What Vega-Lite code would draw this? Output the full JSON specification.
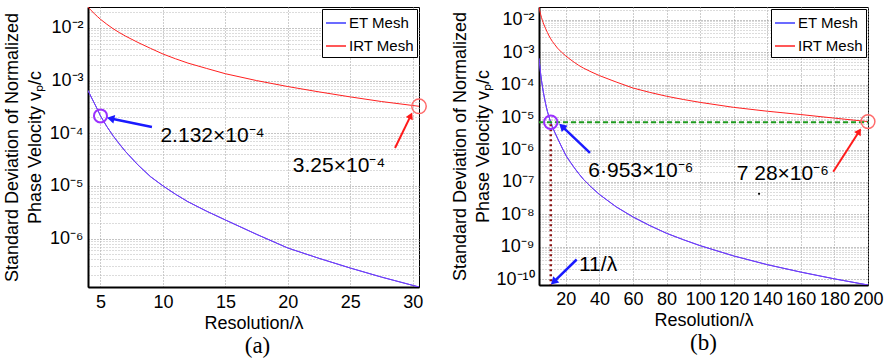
{
  "$schema": "https://vega.github.io/schema/vega-lite/v6.json",
  "background": "white",
  "padding": {"left": 2, "top": 0, "right": 2, "bottom": 0},
  "config": {
    "font": "Liberation Sans",
    "view": {"stroke": "black", "strokeWidth": 1},
    "axis": {
      "labelFont": "Liberation Sans",
      "titleFont": "Liberation Sans",
      "labelColor": "black",
      "titleColor": "black",
      "titleFontWeight": "normal",
      "labelFontSize": 18,
      "titleFontSize": 18,
      "ticks": false,
      "domainColor": "black",
      "domainWidth": 2,
      "grid": true,
      "gridOpacity": 1,
      "gridWidth": 1,
      "gridDash": [1, 2],
      "labelFlush": false,
      "labelOverlap": false
    },
    "legend": {
      "title": null,
      "orient": "top-right",
      "offset": 2,
      "strokeColor": "black",
      "fillColor": "white",
      "padding": 3,
      "symbolType": "stroke",
      "symbolSize": 400,
      "symbolStrokeWidth": 1.5,
      "labelFont": "Liberation Sans",
      "labelFontSize": 15,
      "labelColor": "black",
      "labelOffset": 2,
      "rowPadding": 4,
      "cornerRadius": 0,
      "labelLimit": 90
    }
  },
  "datasets": {
    "curve": [
      {"x": 4, "mesh": "ET Mesh", "y": 6.5e-4}, {"x": 4, "mesh": "IRT Mesh", "y": 0.025},
      {"x": 4.25, "mesh": "ET Mesh", "y": 4.9e-4}, {"x": 4.25, "mesh": "IRT Mesh", "y": 0.0215},
      {"x": 4.5, "mesh": "ET Mesh", "y": 3.75e-4}, {"x": 4.5, "mesh": "IRT Mesh", "y": 0.0188},
      {"x": 4.75, "mesh": "ET Mesh", "y": 2.85e-4}, {"x": 4.75, "mesh": "IRT Mesh", "y": 0.0165},
      {"x": 5, "mesh": "ET Mesh", "y": 2.132e-4}, {"x": 5, "mesh": "IRT Mesh", "y": 0.0146},
      {"x": 5.5, "mesh": "ET Mesh", "y": 1.35e-4}, {"x": 5.5, "mesh": "IRT Mesh", "y": 0.0118},
      {"x": 6, "mesh": "ET Mesh", "y": 9.0e-5}, {"x": 6, "mesh": "IRT Mesh", "y": 0.0097},
      {"x": 6.5, "mesh": "ET Mesh", "y": 6.3e-5}, {"x": 6.5, "mesh": "IRT Mesh", "y": 0.0082},
      {"x": 7, "mesh": "ET Mesh", "y": 4.5e-5}, {"x": 7, "mesh": "IRT Mesh", "y": 0.0070},
      {"x": 8, "mesh": "ET Mesh", "y": 2.5e-5}, {"x": 8, "mesh": "IRT Mesh", "y": 0.0053},
      {"x": 9, "mesh": "ET Mesh", "y": 1.5e-5}, {"x": 9, "mesh": "IRT Mesh", "y": 0.0041},
      {"x": 10, "mesh": "ET Mesh", "y": 1.0e-5}, {"x": 10, "mesh": "IRT Mesh", "y": 0.0032},
      {"x": 11, "mesh": "ET Mesh", "y": 6.953e-6}, {"x": 11, "mesh": "IRT Mesh", "y": 0.0026},
      {"x": 12, "mesh": "ET Mesh", "y": 5.0e-6}, {"x": 12, "mesh": "IRT Mesh", "y": 0.00215},
      {"x": 13.5, "mesh": "ET Mesh", "y": 3.3e-6}, {"x": 13.5, "mesh": "IRT Mesh", "y": 0.0017},
      {"x": 15, "mesh": "ET Mesh", "y": 2.25e-6}, {"x": 15, "mesh": "IRT Mesh", "y": 0.00135},
      {"x": 17.5, "mesh": "ET Mesh", "y": 1.2e-6}, {"x": 17.5, "mesh": "IRT Mesh", "y": 0.001},
      {"x": 20, "mesh": "ET Mesh", "y": 6.6e-7}, {"x": 20, "mesh": "IRT Mesh", "y": 0.00077},
      {"x": 22.5, "mesh": "ET Mesh", "y": 4.2e-7}, {"x": 22.5, "mesh": "IRT Mesh", "y": 0.00061},
      {"x": 25, "mesh": "ET Mesh", "y": 2.75e-7}, {"x": 25, "mesh": "IRT Mesh", "y": 0.00049},
      {"x": 27.5, "mesh": "ET Mesh", "y": 1.85e-7}, {"x": 27.5, "mesh": "IRT Mesh", "y": 0.0004},
      {"x": 30.5, "mesh": "ET Mesh", "y": 1.2e-7}, {"x": 30.5, "mesh": "IRT Mesh", "y": 0.000325},
      {"x": 35, "mesh": "ET Mesh", "y": 7.0e-8}, {"x": 35, "mesh": "IRT Mesh", "y": 0.00025},
      {"x": 40, "mesh": "ET Mesh", "y": 4.1e-8}, {"x": 40, "mesh": "IRT Mesh", "y": 0.000191},
      {"x": 50, "mesh": "ET Mesh", "y": 1.7e-8}, {"x": 50, "mesh": "IRT Mesh", "y": 0.000121},
      {"x": 60, "mesh": "ET Mesh", "y": 8.3e-9}, {"x": 60, "mesh": "IRT Mesh", "y": 7.9e-5},
      {"x": 70, "mesh": "ET Mesh", "y": 4.5e-9}, {"x": 70, "mesh": "IRT Mesh", "y": 5.8e-5},
      {"x": 80, "mesh": "ET Mesh", "y": 2.6e-9}, {"x": 80, "mesh": "IRT Mesh", "y": 4.4e-5},
      {"x": 90, "mesh": "ET Mesh", "y": 1.65e-9}, {"x": 90, "mesh": "IRT Mesh", "y": 3.5e-5},
      {"x": 100, "mesh": "ET Mesh", "y": 1.08e-9}, {"x": 100, "mesh": "IRT Mesh", "y": 2.85e-5},
      {"x": 120, "mesh": "ET Mesh", "y": 5.2e-10}, {"x": 120, "mesh": "IRT Mesh", "y": 2.0e-5},
      {"x": 140, "mesh": "ET Mesh", "y": 2.8e-10}, {"x": 140, "mesh": "IRT Mesh", "y": 1.52e-5},
      {"x": 160, "mesh": "ET Mesh", "y": 1.65e-10}, {"x": 160, "mesh": "IRT Mesh", "y": 1.2e-5},
      {"x": 180, "mesh": "ET Mesh", "y": 1.02e-10}, {"x": 180, "mesh": "IRT Mesh", "y": 9.3e-6},
      {"x": 200, "mesh": "ET Mesh", "y": 6.6e-11}, {"x": 200, "mesh": "IRT Mesh", "y": 7.28e-6}
    ]
  },
  "spacing": 120,
  "bounds": "flush",
  "resolve": {"scale": {"color": "independent"}, "legend": {"color": "independent"}},
  "hconcat": [
    {
      "width": 331,
      "height": 280,
      "title": {"text": "(a)", "orient": "bottom", "font": "Liberation Serif", "fontSize": 23, "fontWeight": "normal", "color": "black", "offset": 3, "dx": 4},
      "encoding": {
        "x": {
          "field": "x", "type": "quantitative",
          "scale": {"domain": [4, 30.5], "nice": false, "zero": false},
          "axis": {"title": "Resolution/λ", "values": [5, 10, 15, 20, 25, 30], "labelPadding": 6, "titlePadding": 3, "grid": true, "gridColor": "#9a9a9a"}
        },
        "y": {
          "field": "y", "type": "quantitative",
          "scale": {"type": "log", "domain": [1.2e-7, 0.025], "nice": false},
          "axis": {
            "title": ["Standard Deviation of Normalized", "Phase Velocity vₚ/c"],
            "titleLineHeight": 23,
            "titlePadding": 5,
            "labelPadding": 5,
            "grid": true,
            "values": [2e-7, 3e-7, 4e-7, 5e-7, 6e-7, 7e-7, 8e-7, 9e-7, 1e-6, 2e-6, 3e-6, 4e-6, 5e-6, 6e-6, 7e-6, 8e-6, 9e-6, 1e-5, 2e-5, 3e-5, 4e-5, 5e-5, 6e-5, 7e-5, 8e-5, 9e-5, 1e-4, 2e-4, 3e-4, 4e-4, 5e-4, 6e-4, 7e-4, 8e-4, 9e-4, 1e-3, 2e-3, 3e-3, 4e-3, 5e-3, 6e-3, 7e-3, 8e-3, 9e-3, 1e-2, 2e-2],
            "labelExpr": "abs(log(datum.value)/LN10 - round(log(datum.value)/LN10)) < 0.001 ? '10⁻' + (round(-log(datum.value)/LN10) >= 10 ? '¹⁰' : ['⁰','¹','²','³','⁴','⁵','⁶','⁷','⁸','⁹'][round(-log(datum.value)/LN10)]) : ''",
            "gridColor": {"condition": {"test": "abs(log(datum.value)/LN10 - round(log(datum.value)/LN10)) < 0.001", "value": "#8a8a8a"}, "value": "#b8b8b8"}
          }
        }
      },
      "layer": [
        {
          "data": {"name": "curve"},
          "transform": [{"filter": "datum.x <= 30.5"}],
          "mark": {"type": "line", "strokeWidth": 1, "clip": true},
          "encoding": {
            "color": {"field": "mesh", "type": "nominal", "scale": {"domain": ["ET Mesh", "IRT Mesh"], "range": ["#3a3aff", "#ff2020"]}}
          }
        },
        {
          "data": {"name": "curve"},
          "transform": [{"filter": "datum.x <= 30.5 && datum.mesh == 'ET Mesh'"}],
          "mark": {"type": "line", "strokeWidth": 1, "clip": true, "color": "#7a3cf4"}
        },
        {
          "data": {"values": [{"x": 5, "y": 2.132e-4}]},
          "mark": {"type": "point", "filled": false, "stroke": "#9b30ff", "strokeWidth": 2, "size": 170, "opacity": 1}
        },
        {
          "data": {"values": [{"x": 30.5, "y": 3.25e-4}]},
          "mark": {"type": "point", "filled": false, "stroke": "#ff6b6b", "strokeWidth": 1.5, "size": 210, "opacity": 1}
        },
        {
          "data": {"values": [{"x": 9.12, "y": 1.31e-4, "x2": 5.91, "y2": 1.88e-4}]},
          "mark": {"type": "rule", "color": "#1a1aff", "strokeWidth": 2.5},
          "encoding": {"x2": {"field": "x2"}, "y2": {"field": "y2"}}
        },
        {
          "data": {"values": [{"x": 5.91, "y": 1.88e-4}]},
          "mark": {"type": "point", "shape": "triangle", "filled": true, "color": "#1a1aff", "size": 75, "angle": 282, "opacity": 1}
        },
        {
          "data": {"values": [{"x": 28.58, "y": 5.24e-5, "x2": 29.8, "y2": 2.07e-4}]},
          "mark": {"type": "rule", "color": "#ff1a1a", "strokeWidth": 2},
          "encoding": {"x2": {"field": "x2"}, "y2": {"field": "y2"}}
        },
        {
          "data": {"values": [{"x": 29.8, "y": 2.07e-4}]},
          "mark": {"type": "point", "shape": "triangle", "filled": true, "color": "#ff1a1a", "size": 60, "angle": 26, "opacity": 1}
        },
        {
          "data": {"values": [{"x": 9.8, "y": 8.85e-5, "label": "2.132×10⁻⁴"}, {"x": 20.4, "y": 2.39e-5, "label": "3.25×10⁻⁴"}]},
          "mark": {"type": "text", "align": "left", "baseline": "middle", "fontSize": 21, "color": "black", "font": "Liberation Sans"},
          "encoding": {"text": {"field": "label"}}
        }
      ]
    },
    {
      "width": 329,
      "height": 278,
      "title": {"text": "(b)", "orient": "bottom", "font": "Liberation Serif", "fontSize": 23, "fontWeight": "normal", "color": "black", "offset": 3},
      "encoding": {
        "x": {
          "field": "x", "type": "quantitative",
          "scale": {"domain": [4, 200], "nice": false, "zero": false},
          "axis": {"title": "Resolution/λ", "values": [20, 40, 60, 80, 100, 120, 140, 160, 180, 200], "labelPadding": 5, "titlePadding": 3, "grid": true, "gridColor": "#9a9a9a"}
        },
        "y": {
          "field": "y", "type": "quantitative",
          "scale": {"type": "log", "domain": [6.6e-11, 0.025], "nice": false},
          "axis": {
            "title": ["Standard Deviation of Normalized", "Phase Velocity vₚ/c"],
            "titleLineHeight": 23,
            "titlePadding": 3,
            "labelPadding": 5,
            "grid": true,
            "values": [1e-10, 2e-10, 3e-10, 4e-10, 5e-10, 6e-10, 7e-10, 8e-10, 9e-10, 1e-9, 2e-9, 3e-9, 4e-9, 5e-9, 6e-9, 7e-9, 8e-9, 9e-9, 1e-8, 2e-8, 3e-8, 4e-8, 5e-8, 6e-8, 7e-8, 8e-8, 9e-8, 1e-7, 2e-7, 3e-7, 4e-7, 5e-7, 6e-7, 7e-7, 8e-7, 9e-7, 1e-6, 2e-6, 3e-6, 4e-6, 5e-6, 6e-6, 7e-6, 8e-6, 9e-6, 1e-5, 2e-5, 3e-5, 4e-5, 5e-5, 6e-5, 7e-5, 8e-5, 9e-5, 1e-4, 2e-4, 3e-4, 4e-4, 5e-4, 6e-4, 7e-4, 8e-4, 9e-4, 1e-3, 2e-3, 3e-3, 4e-3, 5e-3, 6e-3, 7e-3, 8e-3, 9e-3, 1e-2, 2e-2],
            "labelExpr": "abs(log(datum.value)/LN10 - round(log(datum.value)/LN10)) < 0.001 ? '10⁻' + (round(-log(datum.value)/LN10) >= 10 ? '¹⁰' : ['⁰','¹','²','³','⁴','⁵','⁶','⁷','⁸','⁹'][round(-log(datum.value)/LN10)]) : ''",
            "gridColor": {"condition": {"test": "abs(log(datum.value)/LN10 - round(log(datum.value)/LN10)) < 0.001", "value": "#8a8a8a"}, "value": "#b8b8b8"}
          }
        }
      },
      "layer": [
        {
          "data": {"name": "curve"},
          "mark": {"type": "line", "strokeWidth": 1, "clip": true},
          "encoding": {
            "color": {"field": "mesh", "type": "nominal", "scale": {"domain": ["ET Mesh", "IRT Mesh"], "range": ["#3a3aff", "#ff2020"]}}
          }
        },
        {
          "data": {"name": "curve"},
          "transform": [{"filter": "datum.mesh == 'ET Mesh'"}],
          "mark": {"type": "line", "strokeWidth": 1, "clip": true, "color": "#7a3cf4"}
        },
        {
          "data": {"values": [{"x": 4, "x2": 200, "y": 7.0e-6}]},
          "mark": {"type": "rule", "color": "#1f9a1f", "strokeWidth": 2, "strokeDash": [5, 3]},
          "encoding": {"x2": {"field": "x2"}}
        },
        {
          "data": {"values": [{"x": 11, "y": 6.0e-6, "y2": 6.6e-11}]},
          "mark": {"type": "rule", "color": "#8b1010", "strokeWidth": 2.5, "strokeDash": [2, 3]},
          "encoding": {"y2": {"field": "y2"}}
        },
        {
          "data": {"values": [{"x": 11, "y": 6.953e-6}]},
          "mark": {"type": "point", "filled": false, "stroke": "#9b30ff", "strokeWidth": 2, "size": 180, "opacity": 1}
        },
        {
          "data": {"values": [{"x": 200, "y": 7.28e-6}]},
          "mark": {"type": "point", "filled": false, "stroke": "#ff6b6b", "strokeWidth": 1.5, "size": 190, "opacity": 1}
        },
        {
          "data": {"values": [{"x": 34.38, "y": 7.9e-7, "x2": 18.24, "y2": 4.89e-6}, {"x": 26.46, "y": 4.04e-10, "x2": 13.23, "y2": 8.69e-11}]},
          "mark": {"type": "rule", "color": "#1a1aff", "strokeWidth": 2.5},
          "encoding": {"x2": {"field": "x2"}, "y2": {"field": "y2"}}
        },
        {
          "data": {"values": [{"x": 18.24, "y": 4.89e-6}]},
          "mark": {"type": "point", "shape": "triangle", "filled": true, "color": "#1a1aff", "size": 75, "angle": 313, "opacity": 1}
        },
        {
          "data": {"values": [{"x": 13.23, "y": 8.69e-11}]},
          "mark": {"type": "point", "shape": "triangle", "filled": true, "color": "#1a1aff", "size": 75, "angle": 226, "opacity": 1}
        },
        {
          "data": {"values": [{"x": 179.3, "y": 2.05e-7, "x2": 194.4, "y2": 3.43e-6}]},
          "mark": {"type": "rule", "color": "#ff1a1a", "strokeWidth": 2},
          "encoding": {"x2": {"field": "x2"}, "y2": {"field": "y2"}}
        },
        {
          "data": {"values": [{"x": 194.4, "y": 3.43e-6}]},
          "mark": {"type": "point", "shape": "triangle", "filled": true, "color": "#ff1a1a", "size": 60, "angle": 32, "opacity": 1}
        },
        {
          "data": {"values": [{"x": 135.1, "y": 4.29e-8}]},
          "mark": {"type": "point", "filled": true, "color": "black", "size": 5, "opacity": 1}
        },
        {
          "data": {"values": [{"x": 33.37, "y": 2.15e-7, "label": "6·953×10⁻⁶"}, {"x": 121.8, "y": 1.7e-7, "label": "7 28×10⁻⁶"}, {"x": 27.83, "y": 2.83e-10, "label": "11/λ"}]},
          "mark": {"type": "text", "align": "left", "baseline": "middle", "fontSize": 21, "color": "black", "font": "Liberation Sans"},
          "encoding": {"text": {"field": "label"}}
        }
      ]
    }
  ]
}
